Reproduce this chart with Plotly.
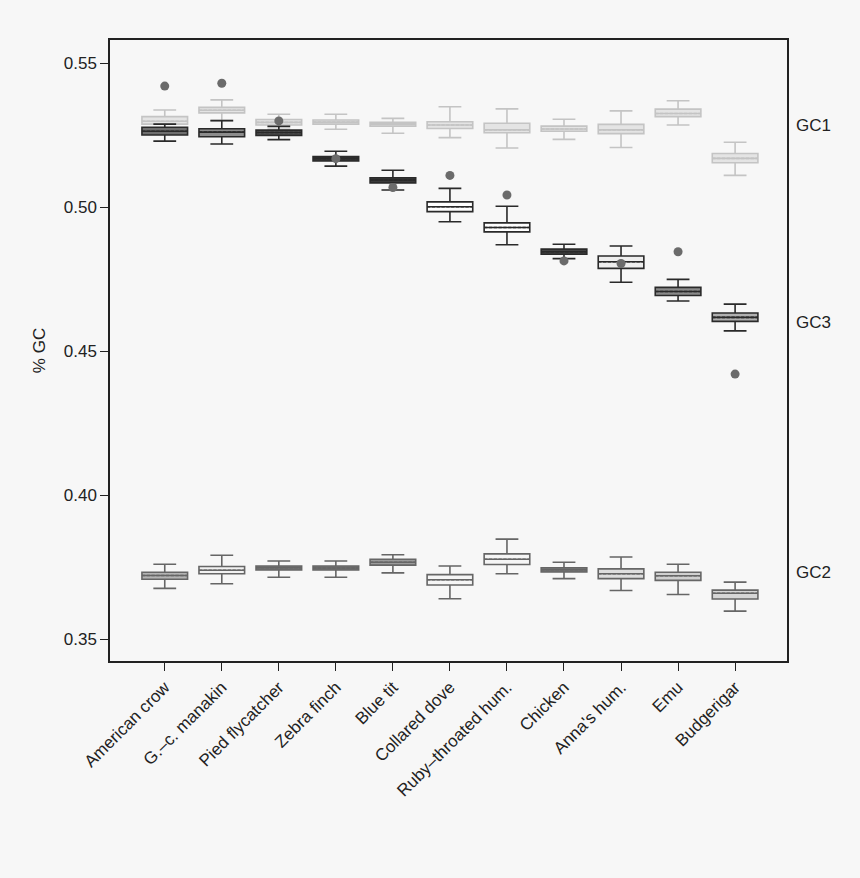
import plotly.graph_objects as go

species = ["American crow", "G.\u2013c. manakin", "Pied flycatcher", "Zebra finch", "Blue tit",
           "Collared dove", "Ruby\u2013throated hum.", "Chicken", "Anna's hum.", "Emu", "Budgerigar"]

# GC1 (first codon position)
gc1_low = [0.5262, 0.5300, 0.5270, 0.5270, 0.5256, 0.5241, 0.5205, 0.5235, 0.5207, 0.5285, 0.5110]
gc1_q1  = [0.5288, 0.5327, 0.5285, 0.5288, 0.5281, 0.5273, 0.5258, 0.5263, 0.5255, 0.5314, 0.5154]
gc1_med = [0.5298, 0.5336, 0.5294, 0.5295, 0.5288, 0.5285, 0.5268, 0.5271, 0.5268, 0.5325, 0.5169]
gc1_q3  = [0.5314, 0.5346, 0.5304, 0.5302, 0.5294, 0.5296, 0.5291, 0.5281, 0.5287, 0.5340, 0.5186]
gc1_up  = [0.5337, 0.5372, 0.5322, 0.5322, 0.5308, 0.5348, 0.5341, 0.5305, 0.5334, 0.5369, 0.5225]
gc1_out = [[0.5420], [0.5430], [], [], [], [], [], [], [], [], []]

# GC3 (third codon position)
gc3_low = [0.5229, 0.5219, 0.5234, 0.5142, 0.5059, 0.4949, 0.4869, 0.4821, 0.4739, 0.4674, 0.4570]
gc3_q1  = [0.5250, 0.5244, 0.5249, 0.5160, 0.5084, 0.4984, 0.4914, 0.4836, 0.4787, 0.4693, 0.4603]
gc3_med = [0.5263, 0.5260, 0.5259, 0.5168, 0.5094, 0.5001, 0.4929, 0.4845, 0.4810, 0.4707, 0.4617]
gc3_q3  = [0.5277, 0.5272, 0.5267, 0.5175, 0.5102, 0.5018, 0.4945, 0.4854, 0.4830, 0.4721, 0.4632]
gc3_up  = [0.5288, 0.5300, 0.5280, 0.5194, 0.5128, 0.5065, 0.5003, 0.4871, 0.4865, 0.4749, 0.4663]
gc3_out = [[], [], [0.5299], [0.5168], [0.5068], [0.5110], [0.5042], [0.4813], [0.4804], [0.4845], [0.4420]]

# GC2 (second codon position)
gc2_low = [0.3676, 0.3692, 0.3715, 0.3715, 0.3730, 0.3640, 0.3727, 0.3710, 0.3669, 0.3655, 0.3597]
gc2_q1  = [0.3708, 0.3727, 0.3740, 0.3740, 0.3757, 0.3688, 0.3759, 0.3733, 0.3710, 0.3704, 0.3639]
gc2_med = [0.3721, 0.3739, 0.3748, 0.3747, 0.3767, 0.3706, 0.3777, 0.3741, 0.3727, 0.3720, 0.3659]
gc2_q3  = [0.3732, 0.3752, 0.3754, 0.3754, 0.3777, 0.3724, 0.3796, 0.3748, 0.3744, 0.3732, 0.3670]
gc2_up  = [0.3760, 0.3791, 0.3771, 0.3771, 0.3793, 0.3754, 0.3847, 0.3767, 0.3785, 0.3760, 0.3698]
gc2_out = [[], [], [], [], [], [], [], [], [], [], []]

series = [
    dict(name="GC1", low=gc1_low, q1=gc1_q1, med=gc1_med, q3=gc1_q3, up=gc1_up, out=gc1_out,
         line="#c4c4c4",
         fills=["#e4e4e4"] * 11),
    dict(name="GC2", low=gc2_low, q1=gc2_q1, med=gc2_med, q3=gc2_q3, up=gc2_up, out=gc2_out,
         line="#666666",
         fills=["#b4b4b4", "#f2f2f2", "#7a7a7a", "#7a7a7a", "#9a9a9a", "#f5f5f5",
                "#f5f5f5", "#7a7a7a", "#dedede", "#cfcfcf", "#d6d6d6"]),
    dict(name="GC3", low=gc3_low, q1=gc3_q1, med=gc3_med, q3=gc3_q3, up=gc3_up, out=gc3_out,
         line="#2a2a2a",
         fills=["#6e6e6e", "#8c8c8c", "#555555", "#3a3a3a", "#3a3a3a", "#ffffff",
                "#ffffff", "#444444", "#eeeeee", "#8a8a8a", "#b0b0b0"]),
]

fig = go.Figure()
for s in series:
    for i, sp in enumerate(species):
        fig.add_trace(go.Box(
            x=[sp], q1=[s["q1"][i]], median=[s["med"][i]], q3=[s["q3"][i]],
            lowerfence=[s["low"][i]], upperfence=[s["up"][i]],
            mean=[s["med"][i]], boxmean=True,
            fillcolor=s["fills"][i], line=dict(color=s["line"], width=1.6),
            width=0.8, whiskerwidth=0.5, showlegend=False, hoverinfo="skip",
        ))
    ox, oy = [], []
    for i, sp in enumerate(species):
        for v in s["out"][i]:
            ox.append(sp)
            oy.append(v)
    if ox:
        fig.add_trace(go.Scatter(x=ox, y=oy, mode="markers",
                                 marker=dict(color="#6b6b6b", size=9),
                                 showlegend=False, hoverinfo="skip"))

labels = [("GC1", 0.5282), ("GC3", 0.4600), ("GC2", 0.3730)]
for txt, yv in labels:
    fig.add_annotation(text=txt, xref="paper", x=1.010, y=yv, yref="y",
                       xanchor="left", showarrow=False,
                       font=dict(size=17, color="#222222"))

fig.update_layout(
    width=860, height=878,
    paper_bgcolor="#f7f7f7", plot_bgcolor="#f7f7f7",
    margin=dict(l=110, r=73, t=40, b=217),
    boxmode="overlay",
    font=dict(family="Liberation Sans, Arial, sans-serif", size=17, color="#222222"),
    xaxis=dict(type="category", categoryorder="array", categoryarray=species,
               range=[-0.96, 10.91], showgrid=False, zeroline=False,
               showline=True, linecolor="#222222", linewidth=1.5, mirror=True,
               ticks="outside", ticklen=8, tickcolor="#222222", tickwidth=1.2,
               tickangle=-45, tickfont=dict(size=17)),
    yaxis=dict(range=[0.3424, 0.558], showgrid=False, zeroline=False,
               showline=True, linecolor="#222222", linewidth=1.5, mirror=True,
               ticks="outside", ticklen=8, tickcolor="#222222", tickwidth=1.2,
               tickvals=[0.35, 0.40, 0.45, 0.50, 0.55], tickformat=".2f",
               tickfont=dict(size=17),
               title=dict(text="% GC", font=dict(size=17), standoff=14)),
)

fig.write_html("out.html", config={"displayModeBar": False},
               post_script="document.body.style.margin='0';document.body.style.background='#f7f7f7';")
